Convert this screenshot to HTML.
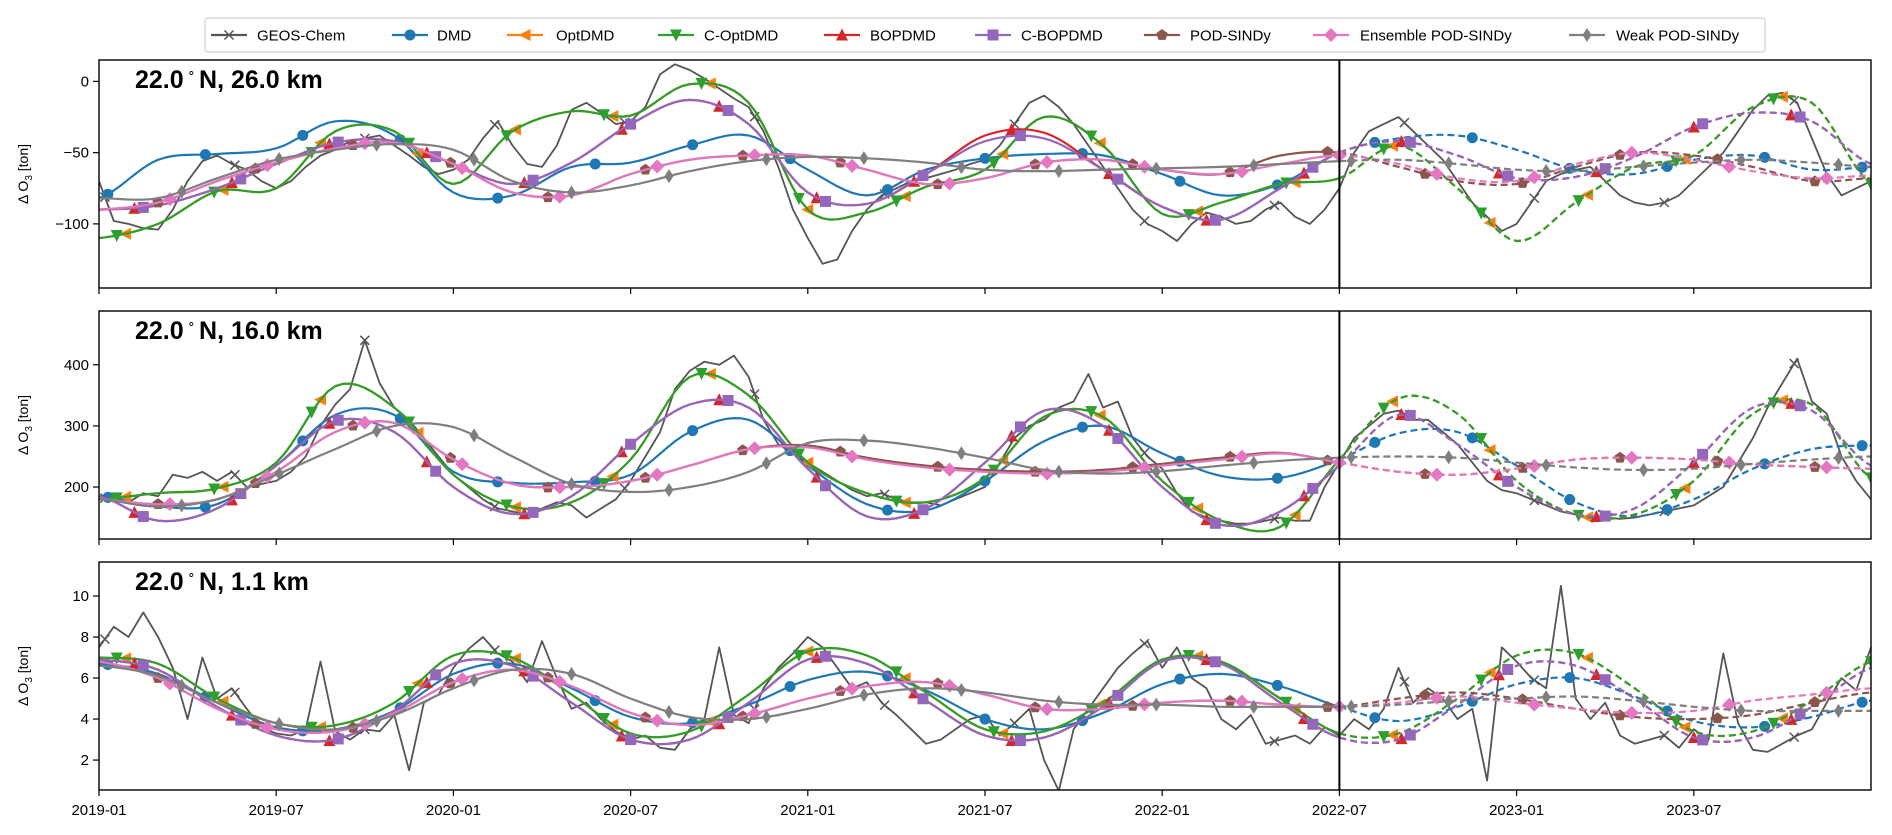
<!DOCTYPE html>
<html><head><meta charset="utf-8"><style>
html,body{margin:0;padding:0;background:#fff;}
svg{display:block;font-family:"Liberation Sans",sans-serif;}
</style></head><body>
<svg id="chart" width="1892" height="835" viewBox="0 0 1892 835" xmlns="http://www.w3.org/2000/svg"></svg>
<script>
// ---- data ----
const monthTicks = ['2019-01','2019-07','2020-01','2020-07','2021-01','2021-07','2022-01','2022-07','2023-01','2023-07'];
const tickMonths = [0,6,12,18,24,30,36,42,48,54];
const splitMonth = 42;
const panelTitles = ['26.0 km','16.0 km','1.1 km'];
const seriesNames = ['GEOS-Chem','DMD','OptDMD','C-OptDMD','BOPDMD','C-BOPDMD','POD-SINDy','Ensemble POD-SINDy','Weak POD-SINDy'];

// Panel 1 (26 km)
const geos1 = [-70,-98,-100,-103,-104,-90,-70,-56,-52,-58, -62,-70,-75,-70,-60,-52,-48,-42,-40,-38, -45,-52,-60,-65,-62,-55,-40,-28,-45,-58, -60,-45,-20,-15,-22,-30,-28,-18,5,12, 8,2,-5,-12,-18,-35,-60,-90,-110,-128, -125,-105,-90,-80,-75,-70,-68,-65,-62,-58, -55,-45,-30,-15,-10,-18,-30,-45,-60,-75, -90,-100,-105,-112,-100,-92,-95,-100,-98,-90, -85,-95,-100,-90,-75,-50,-35,-30,-25,-35, -45,-55,-70,-85,-95,-105,-100,-85,-70,-65, -62,-60,-70,-80,-85,-87,-85,-80,-70,-60, -50,-35,-20,-10,-8,-15,-40,-65,-80,-75, -70];
const dmd1 = [-82,-55,-51,-47,-28,-38,-78,-80,-60,-57,-45,-38,-62,-80,-62,-54,-51,-52,-65,-80,-72,-50,-40,-38,-48,-62,-65,-55,-52,-62,-60];
const opt1 = [-110,-100,-77,-75,-35,-35,-72,-35,-21,-24,-2,-15,-90,-92,-74,-62,-25,-45,-93,-85,-72,-68,-45,-75,-112,-85,-60,-52,-18,-15,-72];
const copt1 = [-110,-100,-77,-75,-35,-35,-72,-35,-21,-24,-2,-15,-90,-92,-74,-62,-25,-45,-93,-85,-72,-68,-45,-75,-112,-85,-60,-52,-18,-15,-72];
const bop1 = [-90,-87,-75,-58,-43,-42,-58,-72,-57,-30,-13,-30,-78,-86,-65,-38,-36,-62,-88,-97,-75,-50,-42,-52,-68,-67,-53,-32,-22,-28,-58];
const cbop1 = [-90,-87,-75,-58,-43,-42,-58,-72,-57,-30,-13,-30,-78,-86,-65,-42,-40,-62,-88,-97,-75,-50,-42,-52,-68,-67,-53,-32,-22,-28,-58];
const pod1 = [-90,-85,-70,-57,-47,-43,-58,-78,-80,-65,-55,-52,-52,-62,-72,-68,-57,-55,-62,-65,-52,-50,-60,-70,-72,-60,-50,-52,-60,-70,-68];
const ens1 = [-90,-85,-70,-57,-47,-43,-58,-78,-80,-65,-55,-52,-52,-62,-72,-68,-57,-55,-62,-65,-58,-52,-58,-68,-70,-58,-50,-55,-63,-68,-66];
const weak1 = [-82,-82,-68,-55,-48,-44,-48,-70,-78,-73,-63,-56,-53,-54,-57,-62,-63,-62,-61,-60,-58,-56,-55,-58,-62,-63,-60,-57,-55,-57,-60];

// Panel 2 (16 km)
const geos2 = [180,185,175,190,185,220,215,225,210,225, 200,205,210,225,250,300,335,360,440,370, 330,310,280,250,220,200,180,165,160,155, 165,175,170,150,165,180,210,250,290,360, 390,405,400,415,380,310,270,255,240,225, 210,195,185,190,180,175,175,170,180,190, 200,240,280,300,310,330,340,385,330,340, 280,250,230,190,160,150,145,140,140,145, 150,145,145,200,240,280,300,320,325,310, 310,290,270,240,210,195,190,180,170,160, 155,150,150,148,150,155,160,165,170,185, 200,240,280,330,370,410,340,320,250,210, 180];
const dmd2 = [185,168,172,235,318,318,225,207,208,220,290,310,235,172,162,210,275,300,255,218,215,245,288,290,235,175,152,180,230,262,268];
const opt2 = [180,190,198,240,365,330,220,168,175,245,380,350,240,190,175,215,315,315,210,145,135,245,345,320,210,155,155,210,320,335,215];
const copt2 = [180,190,198,240,365,330,220,168,175,245,380,350,240,190,175,215,315,315,210,145,135,245,345,320,210,155,155,210,320,335,215];
const bop2 = [185,145,165,235,308,290,200,156,185,270,335,330,230,152,165,240,325,300,200,138,160,235,318,270,200,155,165,240,330,325,235];
const cbop2 = [185,145,165,235,308,290,200,156,185,270,335,330,230,152,165,240,325,300,200,138,160,235,318,270,200,155,165,240,330,325,235];
const pod2 = [180,172,180,225,290,305,245,205,200,210,235,262,268,248,235,228,225,228,238,248,256,240,225,220,230,245,248,245,237,233,230];
const ens2 = [180,172,180,225,290,305,245,205,200,210,235,262,265,245,232,225,222,225,235,245,255,240,225,220,230,245,248,245,237,233,230];
const weak2 = [180,168,180,220,262,300,298,250,205,192,200,225,272,276,265,248,228,222,226,235,243,248,250,248,240,232,228,230,238,245,250];

// Panel 3 (1.1 km)
const geos3 = [7.5,8.5,8.0,9.2,8.0,6.5,4.0,7.0,5.0,5.5, 4.5,3.6,3.3,3.2,3.5,6.8,3.4,3.0,3.5,3.4, 4.2,1.5,4.8,5.2,6.5,7.4,8.0,7.2,6.8,5.8, 7.8,6.0,4.5,4.8,4.0,3.4,3.0,3.2,2.6,2.5, 3.5,4.0,7.5,4.2,3.8,5.5,6.5,7.2,8.0,7.5, 6.5,5.5,5.8,4.8,4.2,3.5,2.8,3.0,3.5,4.0, 4.2,3.2,3.8,4.5,2.0,0.5,3.5,4.5,5.5,6.5, 7.2,7.8,6.5,7.5,6.0,5.5,4.0,3.5,4.2,2.8, 3.0,3.2,2.8,3.6,3.2,4.0,3.5,4.5,6.5,4.8, 5.5,5.0,4.0,4.5,1.0,7.5,6.8,6.0,5.5,10.5, 5.0,4.0,4.8,3.2,2.8,3.0,3.2,2.6,3.5,3.0, 7.2,3.8,2.5,2.4,2.8,3.2,3.5,4.8,6.0,5.4, 7.5];
const dmd3 = [6.7,6.2,4.8,3.6,3.5,4.4,6.2,6.7,5.5,4.1,3.8,4.7,5.9,6.3,5.4,4.0,3.5,4.3,5.7,6.2,5.6,4.6,3.9,4.6,5.7,6.0,5.1,3.9,3.6,4.1,4.9];
const opt3 = [7.0,6.7,5.0,3.8,3.7,4.8,7.1,7.0,5.2,3.3,3.4,5.2,7.3,7.1,5.3,3.5,3.4,4.8,6.9,6.8,5.0,3.3,3.3,5.0,7.1,7.2,5.5,3.4,3.4,4.9,6.8];
const copt3 = [7.0,6.7,5.0,3.8,3.7,4.8,7.1,7.0,5.2,3.3,3.4,5.2,7.3,7.1,5.3,3.5,3.4,4.8,6.9,6.8,5.0,3.3,3.3,5.0,7.1,7.2,5.5,3.4,3.4,4.9,6.8];
const bop3 = [6.9,6.4,4.6,3.2,3.0,4.4,6.7,6.6,4.8,3.0,3.0,4.8,6.9,6.7,4.9,3.2,3.1,4.6,6.8,6.7,4.8,3.1,3.0,4.7,6.6,6.6,5.0,3.1,3.1,4.6,6.5];
const cbop3 = [6.9,6.4,4.6,3.2,3.0,4.4,6.7,6.6,4.8,3.0,3.0,4.8,6.9,6.7,4.9,3.2,3.1,4.6,6.8,6.7,4.8,3.1,3.0,4.7,6.6,6.6,5.0,3.1,3.1,4.6,6.5];
const pod3 = [6.8,6.0,4.5,3.5,3.4,4.3,5.8,6.4,5.6,4.3,3.7,4.2,5.0,5.6,5.8,5.2,4.5,4.5,4.8,4.9,4.7,4.6,5.0,5.3,5.0,4.5,4.1,4.0,4.2,4.8,5.3];
const ens3 = [6.8,6.0,4.5,3.5,3.4,4.3,5.8,6.4,5.6,4.3,3.7,4.2,5.0,5.6,5.8,5.2,4.5,4.5,4.8,4.9,4.7,4.6,4.8,5.1,4.8,4.5,4.3,4.4,4.9,5.2,5.5];
const weak3 = [6.6,6.1,4.8,3.8,3.5,4.2,5.5,6.4,6.2,5.0,4.1,4.0,4.5,5.2,5.5,5.3,4.9,4.7,4.7,4.6,4.6,4.6,4.7,4.9,5.0,5.1,4.9,4.6,4.4,4.4,4.4];

const yTicks1 = [-100,-50,0];
const yTicks2 = [200,300,400];
const yTicks3 = [2,4,6,8,10];

// ---- layout ----
const NS='http://www.w3.org/2000/svg';
const svg=document.getElementById('chart');
const X0=99, X1=1871, M0=0, M1=60;
const xs = m => X0 + (m-M0)/(M1-M0)*(X1-X0);
const colors=['#555555','#1f77b4','#ff7f0e','#2ca02c','#d62728','#9467bd','#8c564b','#e377c2','#7f7f7f'];
const mtypes=['x','o','<','v','^','s','p','D','d'];
const offsets=[0.2,0.3,0.9,0.6,1.2,1.5,2.0,2.4,2.8];
function el(tag,attrs,parent){const e=document.createElementNS(NS,tag);for(const k in attrs)e.setAttribute(k,attrs[k]);(parent||svg).appendChild(e);return e;}

function cr(arr,t){ // catmull-rom at month t (array step 2 months)
  const n=arr.length; let f=t/2; let i=Math.floor(f); if(i>=n-1)i=n-2; if(i<0)i=0; const u=f-i;
  const p0=arr[Math.max(0,i-1)],p1=arr[i],p2=arr[i+1],p3=arr[Math.min(n-1,i+2)];
  return 0.5*(2*p1+(-p0+p2)*u+(2*p0-5*p1+4*p2-p3)*u*u+(-p0+3*p1-3*p2+p3)*u*u*u);
}
function marker(g,type,x,y,c){
  const r=5.5; let e;
  if(type==='o') e=el('circle',{cx:x,cy:y,r:r,fill:c},g);
  else if(type==='x'){ e=el('path',{d:`M${x-4.5},${y-4.5}L${x+4.5},${y+4.5}M${x-4.5},${y+4.5}L${x+4.5},${y-4.5}`,stroke:c,'stroke-width':1.5,fill:'none'},g);}
  else if(type==='s') e=el('rect',{x:x-r,y:y-r,width:2*r,height:2*r,fill:c},g);
  else { let pts;
    if(type==='<') pts=[[x-6.5,y],[x+5.5,y-6],[x+5.5,y+6]];
    if(type==='v') pts=[[x-6,y-5.5],[x+6,y-5.5],[x,y+6.5]];
    if(type==='^') pts=[[x-6,y+5.5],[x+6,y+5.5],[x,y-6.5]];
    if(type==='D') pts=[[x,y-7],[x+7,y],[x,y+7],[x-7,y]];
    if(type==='d') pts=[[x,y-7],[x+4.5,y],[x,y+7],[x-4.5,y]];
    if(type==='p'){pts=[];for(let k=0;k<5;k++){const a=-Math.PI/2+k*2*Math.PI/5;pts.push([x+6*Math.cos(a),y+6*Math.sin(a)]);}}
    e=el('polygon',{points:pts.map(p=>p.join(',')).join(' '),fill:c},g);
  }
  return e;
}

const panels=[
 {top:60,bot:288,ymin:-145,ymax:15,ticks:yTicks1,geos:geos1,series:[dmd1,opt1,copt1,bop1,cbop1,pod1,ens1,weak1],title:panelTitles[0]},
 {top:311,bot:539,ymin:115,ymax:488,ticks:yTicks2,geos:geos2,series:[dmd2,opt2,copt2,bop2,cbop2,pod2,ens2,weak2],title:panelTitles[1]},
 {top:562,bot:790,ymin:0.54,ymax:11.66,ticks:yTicks3,geos:geos3,series:[dmd3,opt3,copt3,bop3,cbop3,pod3,ens3,weak3],title:panelTitles[2]}
];

panels.forEach((P,pi)=>{
  const ys=v=>P.bot-(v-P.ymin)/(P.ymax-P.ymin)*(P.bot-P.top);
  const g=el('g',{});
  
  
  const cp=el('clipPath',{id:'cp'+pi},g); el('rect',{x:X0,y:P.top,width:X1-X0,height:P.bot-P.top},cp);
  const plot=el('g',{'clip-path':`url(#cp${pi})`},g);
  // GEOS
  const n=P.geos.length;
  const gp=P.geos.map((v,i)=>`${xs(i*60/(n-1)).toFixed(1)},${ys(v).toFixed(1)}`).join(' ');
  const gl=el('polyline',{points:gp,fill:'none',stroke:colors[0],'stroke-width':1.8,'stroke-linejoin':'round'},plot);
  
  
  for(let m=offsets[0];m<=60;m+=4.4){const f=m*(n-1)/60,i=Math.floor(f),u=f-i;const v=i>=n-1?P.geos[n-1]:P.geos[i]*(1-u)+P.geos[i+1]*u;marker(plot,'x',xs(m),ys(v),colors[0]);}
  // models
  P.series.forEach((arr,si)=>{
    const c=colors[si+1];
    let d1='',d2='';
    for(let m=0;m<=splitMonth+1e-9;m+=0.25){d1+=(d1?'L':'M')+xs(m).toFixed(1)+','+ys(cr(arr,m)).toFixed(1);}
    for(let m=splitMonth;m<=60+1e-9;m+=0.25){d2+=(d2?'L':'M')+xs(m).toFixed(1)+','+ys(cr(arr,m)).toFixed(1);}
    const s=el('path',{d:d1,fill:'none',stroke:c,'stroke-width':2.2,'stroke-linejoin':'round'},plot);
    
    
    const dsh=el('path',{d:d2,fill:'none',stroke:c,'stroke-width':2.2,'stroke-dasharray':'7,4'},plot);
    
    
    for(let m=offsets[si+1];m<=60;m+=3.3){marker(plot,mtypes[si+1],xs(m),ys(cr(arr,m)),c);}
  });
  // split line
  const vl=el('line',{x1:xs(splitMonth),x2:xs(splitMonth),y1:P.top,y2:P.bot,stroke:'#000','stroke-width':2},g);
  
  
  // frame
  el('rect',{x:X0,y:P.top,width:X1-X0,height:P.bot-P.top,fill:'none',stroke:'#000','stroke-width':1.4},g);
  // y ticks
  P.ticks.forEach(t=>{const y=ys(t);el('line',{x1:X0-6,x2:X0,y1:y,y2:y,stroke:'#000','stroke-width':1.2},g);
    const tx=el('text',{x:X0-10,y:y+5,'text-anchor':'end','font-size':15,fill:'#000'},g);tx.textContent=(t<0?'\u2212'+(-t):t);
    
    });
  // x ticks
  tickMonths.forEach(m=>{el('line',{x1:xs(m),x2:xs(m),y1:P.bot,y2:P.bot+6,stroke:'#000','stroke-width':1.2},g);});
  // y label
  const cy=(P.top+P.bot)/2;
  const yl=el('text',{x:0,y:0,transform:`translate(28,${cy}) rotate(-90)`,'text-anchor':'middle','font-size':14,fill:'#000'},g);
  yl.innerHTML='\u0394 O<tspan font-size="10" dy="4">3</tspan><tspan dy="-4"> [ton]</tspan>';
  
  
  // title
  const tt=el('text',{x:135,y:P.top+28,'font-size':25,'font-weight':'bold',fill:'#000'},g);
  tt.innerHTML='22.0<tspan font-size="13" dy="-11" font-weight="normal"> \u2218 </tspan><tspan dy="11">N, '+P.title+'</tspan>';
  
  
});
// x tick labels
tickMonths.forEach((m,i)=>{const t=el('text',{x:xs(m),y:815,'text-anchor':'middle','font-size':15,fill:'#000'});t.textContent=monthTicks[i];
  
  });
// legend
const lg=el('g',{});


el('rect',{x:205,y:18,width:1560,height:34,rx:3,fill:'#fff',stroke:'#d0d0d0','stroke-width':1.2},lg);
const hx=[211,392,507,658,824,975,1144,1313,1569];
const txx=[257,437,556,704,870,1021,1190,1360,1616];
seriesNames.forEach((nm,i)=>{
  const e=el('g',{},lg);
  
  
  el('line',{x1:hx[i],x2:hx[i]+36,y1:35,y2:35,stroke:colors[i],'stroke-width':2.2},e);
  marker(e,mtypes[i],hx[i]+18,35,colors[i]);
  const t=el('text',{x:txx[i],y:40.5,'font-size':15,fill:'#000'},e);t.textContent=nm;
});
</script>
</body></html>
